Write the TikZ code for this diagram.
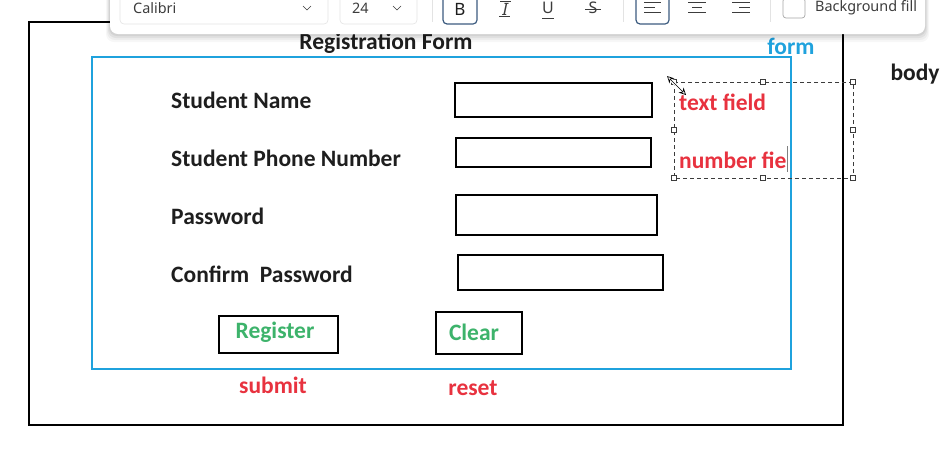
\documentclass[tikz,border=0pt]{standalone}
\usepackage{fontspec}
\setmainfont{Carlito}
\newfontfamily\uifont{Noto Sans}
\usetikzlibrary{arrows.meta}
\definecolor{txt}{HTML}{1E1E1E}
\definecolor{redl}{HTML}{E8323F}
\definecolor{greenl}{HTML}{3DB36B}
\definecolor{bluel}{HTML}{1FA2DD}
\definecolor{uigray}{HTML}{3C3C3C}
\definecolor{uiborder}{HTML}{E3E3E3}
\definecolor{uiblue}{HTML}{3D5C80}
\tikzset{
  bigfont/.style={font=\bfseries\fontsize{23.5}{28}\selectfont},
  lbl/.style={anchor=west,inner sep=0pt,bigfont,text=txt},
  fieldbox/.style={draw=black,line width=2pt},
  btnbox/.style={draw=black,line width=2pt,bigfont,text=greenl},
  redtag/.style={inner sep=0pt,bigfont,text=redl},
  handle/.style={draw=uigray,fill=white,line width=0.6pt,minimum size=5pt,inner sep=0pt},
  uitext/.style={inner sep=0pt,anchor=west,font=\uifont\fontsize{14.4}{16}\selectfont,text=uigray},
  uibox/.style={draw=uiborder,fill=white,rounded corners=4pt,line width=0.6pt},
  selbtn/.style={draw=uiblue,rounded corners=4pt,line width=1.2pt},
}
\begin{document}
\begin{tikzpicture}[x=1pt,y=-1pt]
\useasboundingbox (0,0) rectangle (952,451);
\fill[white] (0,0) rectangle (952,451);
% body
\draw[black,line width=1.8pt] (29,22) rectangle (843,425);
\node[inner sep=0pt,bigfont,text=txt] (bodylbl) at (915,74) {body};
% form
\draw[bluel,line width=2pt] (92,57) rectangle (791,369);
\node[inner sep=0pt,bigfont,text=bluel] (formlbl) at (791,46) {form};
\node[inner sep=0pt,bigfont,text=txt] (title) at (386,43) {Registration Form};
% labels
\node[lbl] (l1) at (171,100) {Student Name};
\node[lbl] (l2) at (171,158) {Student Phone Number};
\node[lbl] (l3) at (171,216) {Password};
\node[lbl] (l4) at (171,274) {Confirm\ \ Password};
% fields
\draw[fieldbox] (455,83) rectangle (652,117);
\draw[fieldbox] (456,138) rectangle (651,167);
\draw[fieldbox] (456,195) rectangle (657,235);
\draw[fieldbox] (458,255) rectangle (663,290);
% buttons
\node[btnbox,minimum width=119pt,minimum height=37pt,inner sep=0pt] (reg) at (278.5,334.5) {};
\node[inner sep=0pt,bigfont,text=greenl] (regt) at (275,332) {Register};
\node[btnbox,minimum width=86pt,minimum height=42pt,inner sep=0pt] (clr) at (479,333) {};
\node[inner sep=0pt,bigfont,text=greenl] (clrt) at (474,332) {Clear};
\node[redtag] (sub) at (273,385) {submit};
\node[redtag] (rst) at (473,388) {reset};
% selection box
\draw[uigray,line width=0.7pt,dash pattern=on 4pt off 3pt] (674,82) rectangle (853,178);
\node[redtag,anchor=west] (tf) at (679,102) {text field};
\node[redtag,anchor=west] (nf) at (679,160) {number fie};
\draw[gray,line width=1pt] (787,146) -- (787,172);
\foreach \p in {(674,82),(763,82),(853,82),(674,130),(853,130),(674,178),(763,178),(853,178)}
  \node[handle] at \p {};
% resize cursor
\draw[white,line width=3pt,{Stealth[length=8pt,width=8pt]}-{Stealth[length=8pt,width=8pt]}] (667,76) -- (686,95);
\draw[black,line width=0.7pt,{Stealth[open,length=7pt,width=7pt]}-{Stealth[open,length=7pt,width=7pt]}] (667,76) -- (686,95);
% toolbar shadow
\foreach \i/\o in {8/0.03,6/0.04,4/0.05,2/0.06}
  \fill[black,opacity=\o,rounded corners=8pt] (110-\i*0.5,-10) rectangle (925+\i*0.5,34+\i);
\fill[white,rounded corners=8pt] (110,-10) rectangle (925,34);
% font box
\draw[uibox] (120,-6) rectangle (328,24);
\node[uitext] (fontname) at (133,8) {Calibri};
\draw[uigray,line width=0.6pt] (303,6) -- (307,10) -- (311,6);
\draw[uibox] (340,-6) rectangle (417,24);
\node[uitext] (fontsize) at (352,8) {24};
\draw[uigray,line width=0.6pt] (393,6) -- (397,10) -- (401,6);
\draw[uiborder,line width=0.8pt] (432,-2) -- (432,22);
\draw[selbtn] (443,-6) rectangle (477,24);
\node[inner sep=0pt,font=\uifont\bfseries\fontsize{17}{18}\selectfont,text=txt] (bold) at (460,9) {B};
\node[inner sep=0pt,font=\uifont\itshape\fontsize{17}{18}\selectfont,text=uigray] (ital) at (505,9) {I};
\draw[uigray,line width=0.7pt] (500,1.5) -- (511,1.5) (499,16.5) -- (510,16.5);
\node[inner sep=0pt,font=\uifont\fontsize{16}{18}\selectfont,text=uigray] (und) at (548,8) {U};
\draw[uigray,line width=0.7pt] (542,18) -- (554,18);
\node[inner sep=0pt,font=\uifont\fontsize{16}{18}\selectfont,text=uigray] (strk) at (593,8) {S};
\draw[uigray,line width=0.7pt] (585,9) -- (601,9);
\draw[uiborder,line width=0.8pt] (623,-2) -- (623,22);
\draw[selbtn] (636,-6) rectangle (669,24);
\draw[uigray,line width=0.9pt] (644,2) -- (661,2) (644,7) -- (655,7) (644,12) -- (661,12);
\draw[uigray,line width=0.9pt] (688,2) -- (706,2) (692,7) -- (702,7) (688,12) -- (706,12);
\draw[uigray,line width=0.9pt] (732,2) -- (750,2) (739,7) -- (750,7) (732,12) -- (750,12);
\draw[uiborder,line width=0.8pt] (770,-2) -- (770,22);
\draw[draw=gray!70,rounded corners=3pt,line width=0.7pt] (783,-2) rectangle (805,18);
\node[uitext] (bgfill) at (815,8) {Background fill};
\end{tikzpicture}
\end{document}
